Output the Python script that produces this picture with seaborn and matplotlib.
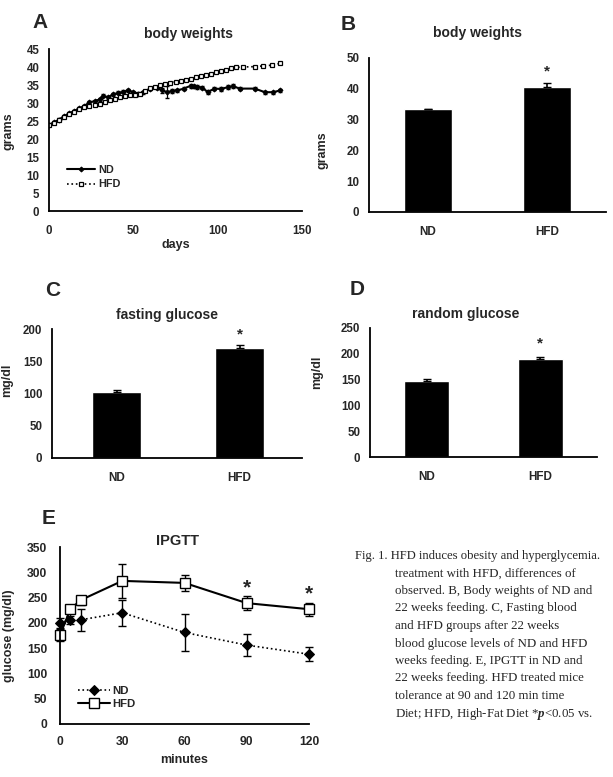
import numpy as np
import pandas as pd
import seaborn as sns
import matplotlib
matplotlib.use("Agg")
import matplotlib.pyplot as plt

# ---- data ----
# A: body weights over time
nd_days = [0, 3, 6, 9, 12, 15, 18, 21, 24, 27, 30, 32, 35, 38, 41, 44, 47, 50, 53, 56,
           60, 64, 67, 70, 73, 76, 80, 84, 86, 88, 91, 94, 98, 102, 106, 109, 113, 122, 128, 133, 137]
nd_weight = [24.0, 24.6, 25.4, 26.3, 27.1, 27.8, 28.5, 29.2, 30.2, 30.5, 31.0, 32.0, 31.6, 32.4, 32.8, 33.1, 33.5, 33.0, 32.6, 33.0,
             34.0, 34.3, 33.5, 33.0, 33.4, 33.5, 34.0, 34.8, 34.6, 34.5, 34.3, 33.0, 34.0, 33.9, 34.4, 34.7, 34.0, 34.0, 33.0, 33.0, 33.5]
nd_weight_err = [0.3, 0.3, 0.3, 0.3, 0.3, 0.3, 0.3, 0.3, 0.4, 0.4, 0.4, 0.4, 0.4, 0.4, 0.4, 0.4, 0.4, 0.4, 0.4, 0.4,
                 0.4, 0.4, 0.6, 1.6, 0.5, 0.5, 0.5, 0.6, 0.5, 0.5, 0.5, 0.5, 0.5, 0.5, 0.5, 0.5, 0.4, 0.4, 0.4, 0.4, 0.4]

hfd_days = [0, 3, 6, 9, 12, 15, 18, 21, 24, 27, 30, 33, 36, 39, 42, 45, 48, 51, 54, 57,
            60, 63, 66, 69, 72, 75, 78, 81, 84, 87, 90, 93, 96, 99, 102, 105, 108, 111, 115, 122, 127, 132, 137]
hfd_weight = [24.0, 24.5, 25.3, 26.2, 27.0, 27.6, 28.2, 28.8, 29.2, 29.5, 29.8, 30.2, 30.7, 31.2, 31.6, 31.9, 32.1, 32.3, 32.6, 33.4,
              34.1, 34.5, 34.9, 35.3, 35.6, 35.9, 36.2, 36.5, 36.8, 37.1, 37.4, 37.7, 38.1, 38.5, 38.9, 39.3, 39.6, 39.9, 40.0, 40.1, 40.3, 40.5, 41.0]

# B, C, D: bar charts
groups = ["ND", "HFD"]
bw_mean = [33.3, 40.5]
bw_err = [0.3, 1.3]
fast_mean = [103, 171]
fast_err = [2.5, 4]
rand_mean = [148, 189]
rand_err = [3, 5]

# E: IPGTT
ipgtt_min = [0, 5, 10, 30, 60, 90, 120]
ipgtt_nd = [200, 206, 206, 220, 181, 156, 138]
ipgtt_nd_err = [10, 8, 22, 26, 36, 22, 14]
ipgtt_hfd = [176, 227, 245, 283, 279, 239, 227]
ipgtt_hfd_err = [12, 5, 9, 34, 16, 14, 13]

# caption, as far as it shows on the cropped page
caption_first = "Fig. 1. HFD induces obesity and hyperglycemia."
caption_lines = [
    "treatment with HFD, differences of",
    "observed. B, Body weights of ND and",
    "22 weeks feeding. C, Fasting blood",
    "and HFD groups after 22 weeks",
    "blood glucose levels of ND and HFD",
    "weeks feeding. E, IPGTT in ND and",
    "22 weeks feeding. HFD treated mice",
    "tolerance at 90 and 120 min time",
    "Diet; HFD, High-Fat Diet *$p$<0.05 vs.",
]

# ---- style ----
sns.set_style("white")
plt.rcParams["font.family"] = ["Liberation Sans", "DejaVu Sans"]
plt.rcParams["font.weight"] = "bold"
plt.rcParams["axes.labelweight"] = "bold"
plt.rcParams["axes.linewidth"] = 1.3
plt.rcParams["mathtext.fontset"] = "custom"
plt.rcParams["mathtext.it"] = "Liberation Serif:italic"
plt.rcParams["mathtext.rm"] = "Liberation Serif"

W, H = 613, 777
fig = plt.figure(figsize=(W / 100, H / 100), dpi=100)


def rect(l, r, t, b):
    return [l / W, 1 - b / H, (r - l) / W, (b - t) / H]


def basic(ax):
    sns.despine(ax=ax)
    for s in ["left", "bottom"]:
        ax.spines[s].set_color("black")
    ax.tick_params(axis="y", direction="out", length=3, width=1.2, color="black", labelsize=8.3, pad=4)


def bar_panel(ax, means, errs, ymax, ystep, star_y, xlim, title, title_xy, ylabel, ylab_xy):
    sns.barplot(x=groups, y=means, color="black", width=0.4, errorbar=None, ax=ax, saturation=1)
    ax.errorbar([0, 1], means, yerr=[[0, 0], errs], fmt="none", ecolor="black", elinewidth=1.2, capsize=3)
    ax.set_xlim(*xlim)
    ax.set_ylim(0, ymax)
    ax.set_yticks(np.arange(0, ymax + 1, ystep))
    basic(ax)
    ax.tick_params(axis="x", length=0, labelsize=8.5, pad=10)
    ax.text(1, star_y, "*", ha="center", va="center", fontsize=11)
    ax.text(title_xy[0], title_xy[1], title, transform=ax.transAxes, ha="center", va="center", fontsize=10)
    ax.set_ylabel(ylabel, fontsize=9)
    ax.yaxis.set_label_coords(*ylab_xy)


# ---- A ----
axA = fig.add_axes(rect(49, 302, 49, 211))
sns.lineplot(x=nd_days, y=nd_weight, color="black", lw=1.5, marker="D", ms=2.5,
             mec="black", label="ND", ax=axA)
axA.errorbar(nd_days, nd_weight, yerr=nd_weight_err, fmt="none", ecolor="black", elinewidth=0.9, capsize=1.2)
sns.lineplot(x=hfd_days, y=hfd_weight, color="black", lw=1.2, ls=":", marker="s", ms=3.5,
             mfc="white", mec="black", mew=0.9, label="HFD", ax=axA)
axA.set_xlim(0, 150)
axA.set_ylim(0, 45)
axA.set_xticks([0, 50, 100, 150])
axA.set_yticks(range(0, 46, 5))
basic(axA)
axA.tick_params(axis="x", direction="out", length=3, width=1.2, color="black", labelsize=8.3, pad=7)
axA.set_xlabel("days", fontsize=9)
axA.xaxis.set_label_coords(0.5, -0.17)
axA.set_ylabel("grams", fontsize=9)
axA.yaxis.set_label_coords(-0.135, 0.49)
axA.text(0.55, 1.09, "body weights", transform=axA.transAxes, ha="center", va="center", fontsize=10)
axA.legend(loc="lower left", bbox_to_anchor=(0.05, 0.1), frameon=False, fontsize=7.8,
           handlelength=2.6, handletextpad=0.3, labelspacing=0.4, borderpad=0)

# ---- B ----
axB = fig.add_axes(rect(369, 606, 58, 212))
bar_panel(axB, bw_mean, bw_err, 50, 10, 45.5, (-0.49, 1.49), "body weights", (0.456, 1.16),
          "grams", (-0.17, 0.4))

# ---- C ----
axC = fig.add_axes(rect(52, 302, 329, 458))
bar_panel(axC, fast_mean, fast_err, 200, 50, 192, (-0.53, 1.51), "fasting glucose", (0.46, 1.11),
          "mg/dl", (-0.155, 0.6))

# ---- D ----
axD = fig.add_axes(rect(370, 597, 328, 457))
bar_panel(axD, rand_mean, rand_err, 250, 50, 220, (-0.5, 1.5), "random glucose", (0.42, 1.11),
          "mg/dl", (-0.205, 0.66))

# ---- E ----
axE = fig.add_axes(rect(60, 309, 547, 724))
sns.lineplot(x=ipgtt_min, y=ipgtt_nd, color="black", lw=1.2, ls=":", marker="D", ms=5,
             mec="black", label="ND", ax=axE, clip_on=False)
axE.errorbar(ipgtt_min, ipgtt_nd, yerr=ipgtt_nd_err, fmt="none", ecolor="black", elinewidth=1.0,
             capsize=3, clip_on=False)
sns.lineplot(x=ipgtt_min, y=ipgtt_hfd, color="black", lw=1.5, marker="s", ms=7.5,
             mfc="white", mec="black", mew=1.0, label="HFD", ax=axE, clip_on=False)
axE.errorbar(ipgtt_min, ipgtt_hfd, yerr=ipgtt_hfd_err, fmt="none", ecolor="black", elinewidth=1.0,
             capsize=3, clip_on=False, zorder=1)
axE.set_xlim(0, 120)
axE.set_ylim(0, 350)
axE.set_xticks([0, 30, 60, 90, 120])
axE.set_yticks(range(0, 351, 50))
basic(axE)
axE.tick_params(axis="y", labelsize=8.7, pad=6)
axE.tick_params(axis="x", direction="inout", length=5, width=1.2, color="black", labelsize=8.7, pad=6)
axE.text(90, 269, "*", ha="center", va="center", fontsize=15)
axE.text(120, 257, "*", ha="center", va="center", fontsize=15)
axE.set_xlabel("minutes", fontsize=9)
axE.xaxis.set_label_coords(0.5, -0.17)
axE.set_ylabel("glucose (mg/dl)", fontsize=9)
axE.yaxis.set_label_coords(-0.18, 0.5)
axE.text(0.47, 1.034, "IPGTT", transform=axE.transAxes, ha="center", va="center", fontsize=10.5)
axE.legend(loc="lower left", bbox_to_anchor=(0.05, 0.05), frameon=False, fontsize=8.2,
           handlelength=2.8, handletextpad=0.2, labelspacing=0.3, borderpad=0)

# ---- panel letters ----
for lab, x, y in [("A", 40, 22), ("B", 348, 24), ("C", 53, 291), ("D", 357, 289), ("E", 49, 519)]:
    fig.text(x / W, 1 - y / H, lab, ha="center", va="center", fontsize=15, fontweight="bold")

# ---- caption ----
fig.text(355 / W, 1 - 556 / H, caption_first, family="Liberation Serif", fontweight="normal",
         fontsize=9.1, va="center", ha="left")
for i, line in enumerate(caption_lines):
    fig.text(395 / W, 1 - (573.5 + 17.5 * i) / H, line, family="Liberation Serif",
             fontweight="normal", fontsize=9.3, va="center", ha="left")

fig.savefig("out.png", dpi=100)
